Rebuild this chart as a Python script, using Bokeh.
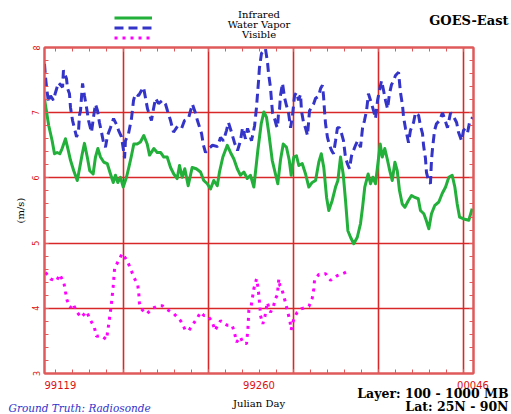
import numpy as np
from bokeh.plotting import figure
from bokeh.layouts import column
from bokeh.models import (LinearAxis, FixedTicker, Grid, Range1d, Legend,
                          LegendItem)
from bokeh.core.properties import value
from bokeh.embed import file_html
from bokeh.resources import INLINE

# ---- data: days since 99119, wind speed error (m/s) ----
ir_day = [0, 2.9, 5.2, 6.8, 8.6, 10.4, 12.0, 14.3, 15.9, 17.7,
          19.9, 22.3, 24.0, 25.7, 27.2, 29.1, 30.8, 33.1, 34.7, 36.3,
          38.1, 40.4, 42.7, 44.9, 46.8, 48.3, 49.9, 51.7, 53.6, 55.8,
          57.4, 59.0, 60.8, 63.1, 65.3, 67.6, 69.9, 71.5, 74.4, 76.7,
          79.0, 81.2, 83.5, 85.8, 88.0, 90.3, 91.9, 93.7, 95.5, 97.8,
          100.5, 103.3, 106.2, 108.4, 110.8, 113.0, 115.2, 117.6, 119.1, 121.4,
          124.4, 126.6, 128.9, 131.2, 133.4, 135.7, 138.0, 140.2, 142.5, 145.2,
          147.5, 149.3, 151.1, 152.7, 155.0, 157.2, 158.8, 160.6, 162.5, 164.7,
          166.6, 167.9, 169.7, 171.5, 173.1, 175.4, 177.7, 179.9, 182.2, 184.5,
          186.7, 188.4, 190.1, 192.0, 193.5, 195.8, 198.1, 199.7, 201.5, 203.3,
          204.9, 206.5, 208.3, 210.5, 212.9, 215.1, 216.5, 218.0, 220.3, 221.9,
          223.5, 225.3, 227.2, 228.5, 229.9, 231.6, 233.3, 235.0, 236.7, 238.5,
          240.1, 241.6, 243.5, 245.3, 247.6, 249.8, 252.1, 254.4, 255.9, 258.2,
          259.8, 261.6, 263.4, 265.7, 268.4, 270.7, 273.0, 275.2, 277.5, 279.3,
          280.9, 282.5, 285.4, 288.8, 291.1]
ir_val = [7.21, 6.80, 6.57, 6.37, 6.39, 6.37, 6.45, 6.60, 6.45, 6.27,
          6.11, 5.96, 6.16, 6.37, 6.53, 6.32, 6.11, 6.06, 6.32, 6.45,
          6.32, 6.24, 6.22, 6.06, 5.93, 6.04, 5.93, 6.01, 5.86, 6.01,
          6.16, 6.32, 6.52, 6.52, 6.55, 6.65, 6.52, 6.35, 6.45, 6.39,
          6.39, 6.32, 6.32, 6.16, 6.06, 5.99, 6.19, 6.01, 6.14, 5.88,
          6.16, 6.14, 6.09, 5.96, 5.91, 5.83, 5.96, 5.88, 6.09, 6.32,
          6.50, 6.39, 6.29, 6.14, 6.04, 6.09, 5.99, 6.04, 5.86, 6.42,
          6.83, 7.01, 6.93, 6.68, 6.27, 6.06, 5.91, 6.27, 6.52, 6.47,
          6.27, 6.04, 6.32, 6.34, 6.19, 6.22, 6.06, 5.86, 5.93, 5.96,
          6.24, 6.37, 6.16, 5.70, 5.50, 5.65, 5.86, 5.96, 6.32, 6.06,
          5.65, 5.19, 5.09, 4.99, 5.09, 5.30, 5.55, 5.86, 6.06, 5.91,
          6.01, 5.91, 6.27, 6.52, 6.32, 6.45, 6.29, 6.11, 5.96, 6.24,
          6.11, 5.81, 5.60, 5.55, 5.65, 5.73, 5.70, 5.68, 5.50, 5.45,
          5.35, 5.22, 5.45, 5.58, 5.63, 5.76, 5.86, 6.01, 6.04, 5.86,
          5.60, 5.40, 5.37, 5.35, 5.53]

wv_day = [0, 0.7, 1.4, 2.7, 4.1, 6.1, 7.5, 9.5, 12.3, 12.9,
          15.0, 15.7, 17.0, 17.7, 19.1, 20.4, 21.8, 23.1, 23.8, 24.5,
          25.9, 27.2, 28.6, 30.0, 32.0, 33.4, 34.7, 36.1, 37.4, 38.8,
          40.2, 41.5, 42.9, 44.9, 47.0, 49.0, 50.4, 52.4, 53.8, 54.5,
          55.1, 57.2, 59.2, 60.6, 61.9, 64.0, 66.0, 67.4, 68.8, 70.1,
          72.8, 74.2, 75.6, 77.6, 80.3, 82.4, 83.7, 85.8, 87.8, 90.5,
          93.3, 95.3, 98.0, 99.4, 100.7, 102.8, 104.1, 106.9, 108.2, 109.6,
          111.6, 114.4, 117.8, 119.8, 121.8, 123.9, 125.2, 127.3, 129.3, 131.4,
          133.4, 134.8, 136.8, 138.2, 140.9, 143.0, 144.3, 145.0, 145.7, 146.3,
          147.7, 149.1, 150.4, 151.8, 152.5, 153.8, 154.5, 155.2, 156.6, 157.9,
          158.6, 159.3, 160.0, 160.6, 162.0, 163.4, 164.7, 166.1, 167.5, 168.8,
          170.2, 171.5, 172.9, 174.3, 174.9, 176.3, 177.7, 179.0, 180.4, 181.7,
          183.1, 184.5, 186.5, 187.9, 189.2, 189.9, 190.6, 191.3, 192.6, 194.0,
          195.4, 196.7, 198.1, 199.4, 200.8, 202.2, 203.5, 204.9, 206.3, 207.6,
          209.0, 210.3, 211.7, 213.1, 215.1, 216.5, 217.8, 219.2, 220.5, 222.6,
          224.0, 225.3, 226.7, 228.0, 229.4, 230.8, 232.1, 233.5, 234.8, 236.2,
          237.6, 238.9, 241.0, 242.3, 243.7, 244.4, 245.7, 247.8, 249.1, 251.2,
          252.5, 254.6, 255.9, 257.3, 258.0, 259.3, 260.0, 261.4, 262.7, 263.4,
          264.1, 265.5, 266.8, 268.9, 270.9, 272.3, 274.3, 276.4, 277.7, 279.1,
          280.5, 281.8, 283.9, 285.2, 286.6, 288.0, 289.3, 291.4]
wv_val = [7.75, 7.54, 7.39, 7.16, 7.26, 7.19, 7.31, 7.46, 7.39, 7.65,
          7.52, 7.37, 7.29, 7.08, 6.88, 6.76, 6.63, 6.70, 6.96, 7.03,
          7.45, 7.26, 7.08, 6.88, 6.70, 6.94, 7.13, 7.03, 6.85, 6.70,
          6.54, 6.47, 6.65, 6.77, 6.91, 6.82, 6.73, 6.63, 6.42, 6.30,
          6.57, 6.68, 6.91, 7.19, 7.29, 7.26, 7.34, 7.39, 7.22, 7.06,
          6.88, 7.06, 7.22, 7.14, 7.19, 7.13, 7.03, 6.88, 6.70, 6.79,
          6.76, 6.88, 6.91, 7.03, 7.13, 6.99, 6.88, 6.68, 6.50, 6.39,
          6.45, 6.50, 6.48, 6.62, 6.57, 6.73, 6.85, 6.70, 6.54, 6.42,
          6.57, 6.77, 6.60, 6.76, 6.57, 6.80, 7.08, 7.29, 7.49, 7.69,
          7.91, 7.95, 7.98, 7.77, 7.60, 7.39, 7.19, 7.00, 6.91, 6.80,
          6.77, 7.00, 7.06, 7.26, 7.45, 7.23, 7.11, 7.00, 6.77, 6.96,
          7.26, 7.31, 7.19, 7.28, 7.03, 6.85, 6.76, 6.65, 7.03, 7.08,
          7.13, 7.22, 7.25, 7.37, 7.42, 7.26, 7.03, 6.83, 6.62, 6.50,
          6.42, 6.37, 6.57, 6.77, 6.77, 6.68, 6.57, 6.31, 6.21, 6.14,
          6.34, 6.42, 6.50, 6.57, 6.47, 6.77, 6.88, 7.03, 7.29, 7.14,
          7.03, 6.91, 7.19, 7.34, 7.49, 7.34, 7.19, 7.06, 7.29, 7.43,
          7.49, 7.57, 7.62, 7.31, 7.11, 6.93, 6.76, 6.54, 6.73, 6.85,
          7.00, 6.96, 6.80, 6.68, 6.50, 6.30, 6.08, 5.96, 5.91, 6.27,
          6.45, 6.73, 6.83, 6.88, 7.00, 6.91, 6.77, 7.00, 6.96, 6.91,
          6.85, 6.70, 6.57, 6.73, 6.76, 6.70, 6.85, 6.93]

vis_day = [0.7, 4.1, 8.2, 10.4, 13.2, 14.3, 15.4, 17.7, 19.5, 21.8,
           25.0, 28.6, 30.9, 34.0, 35.4, 38.6, 42.2, 43.8, 45.4, 46.7,
           47.7, 49.9, 52.9, 56.3, 58.5, 60.8, 63.5, 64.2, 64.6, 66.0,
           68.7, 69.9, 73.3, 77.8, 80.1, 83.5, 88.0, 92.6, 96.0, 98.3,
           100.5, 104.0, 106.2, 108.5, 110.7, 114.1, 116.0, 118.0, 119.8, 124.3,
           127.7, 129.3, 130.7, 133.4, 135.2, 137.5, 138.4, 139.1, 140.7, 142.5,
           144.3, 145.4, 146.6, 147.0, 148.6, 150.0, 151.6, 153.8, 155.7, 157.2,
           158.4, 159.5, 160.2, 161.1, 162.5, 164.0, 165.6, 167.0, 167.9, 169.7,
           172.0, 174.7, 180.0, 182.2, 183.3, 183.8, 186.7, 191.3, 194.7, 199.2,
           203.8, 207.8]
vis_val = [4.55, 4.45, 4.42, 4.52, 4.39, 4.25, 4.12, 4.01, 4.07, 3.95,
           3.86, 3.95, 3.84, 3.70, 3.57, 3.58, 3.52, 3.77, 4.04, 4.32,
           4.61, 4.71, 4.84, 4.73, 4.61, 4.48, 4.35, 4.22, 4.08, 3.99,
           3.92, 3.92, 4.00, 4.04, 4.04, 3.98, 3.92, 3.81, 3.66, 3.66,
           3.74, 3.85, 3.94, 3.89, 3.89, 3.80, 3.66, 3.74, 3.81, 3.74,
           3.74, 3.63, 3.48, 3.56, 3.46, 3.46, 3.67, 3.97, 4.04, 4.30,
           4.45, 4.31, 4.03, 3.89, 3.76, 3.87, 4.09, 3.94, 4.02, 4.15,
           4.20, 4.45, 4.35, 4.32, 4.22, 4.09, 3.94, 3.81, 3.67, 3.84,
           3.94, 3.99, 4.03, 4.15, 4.30, 4.43, 4.52, 4.53, 4.43, 4.50,
           4.54, 4.58]

series_names = ["Infrared", "Water Vapor", "Visible"]
x_labels = ["99119", "99260", "00046"]
y_ticks = [3, 4, 5, 6, 7, 8]
x_major = [53.8, 111.7, 169.5, 227.4, 285.2]

assert len(ir_day) == len(ir_val)
assert len(wv_day) == len(wv_val)
assert len(vis_day) == len(vis_val)

# ---- styles ----
FRAME = "#df5a5a"
GRID = "#d82828"
TXT_RED = "#dd1111"
GREEN = "#22b03a"
BLUE = "#3434c8"
MAGENTA = "#ff00ff"
SERIF = "DejaVu Serif"
SANS = "DejaVu Sans"
W = 511
TOP_H, MAIN_H, BOT_H = 45, 331, 38
STYLES = dict(
    ir=dict(line_color=GREEN, line_width=3, line_join="round"),
    wv=dict(line_color=BLUE, line_width=3, line_dash="9 5"),
    vis=dict(line_color=MAGENTA, line_width=3, line_dash="3 5"),
)


def no_align(fig):
    try:
        fig.frame_align = False
    except Exception:
        pass


# ---------------- main plot ----------------
p = figure(width=W, height=MAIN_H, x_range=Range1d(0, 292), y_range=Range1d(3, 8),
           x_axis_type=None, y_axis_type=None, toolbar_location=None,
           output_backend="svg", min_border_left=44, min_border_right=38,
           min_border_top=2, min_border_bottom=3)
p.outline_line_color = FRAME
p.outline_line_width = 2
p.background_fill_color = "white"
p.border_fill_color = "white"
no_align(p)

x_minor = list(np.round(np.arange(x_major[0] - 57.85, 292, 11.57), 2))
y_minor = list(np.round(np.arange(3, 8.01, 0.2), 2))
xt = FixedTicker(ticks=x_major, minor_ticks=x_minor)
yt = FixedTicker(ticks=y_ticks, minor_ticks=y_minor)


def style_axis(ax, show_labels=False):
    ax.axis_line_color = FRAME
    ax.axis_line_width = 2
    ax.major_tick_in = 4
    ax.major_tick_out = 0
    ax.minor_tick_in = 4
    ax.minor_tick_out = 0
    ax.major_tick_line_color = FRAME
    ax.minor_tick_line_color = FRAME
    if not show_labels:
        ax.major_label_text_color = None
        ax.major_label_standoff = 0


bottom = LinearAxis(ticker=xt)
top = LinearAxis(ticker=xt)
left = LinearAxis(ticker=yt, axis_label="(m/s)")
right = LinearAxis(ticker=yt)
for ax in (bottom, top, right):
    style_axis(ax)
style_axis(left, True)
left.major_label_orientation = "vertical"
left.major_label_text_font_size = "8px"
left.major_label_text_font = SANS
left.major_label_text_color = TXT_RED
left.major_label_standoff = 5
left.axis_label_text_font = SERIF
left.axis_label_text_font_size = "10px"
left.axis_label_text_font_style = "normal"
left.axis_label_text_color = "black"
left.axis_label_standoff = 4
p.add_layout(bottom, "below")
p.add_layout(top, "above")
p.add_layout(left, "left")
p.add_layout(right, "right")

p.add_layout(Grid(dimension=0, ticker=xt, grid_line_color=GRID, grid_line_width=1.6))
p.add_layout(Grid(dimension=1, ticker=yt, grid_line_color=GRID, grid_line_width=1.6))

p.line(ir_day, ir_val, **STYLES["ir"])
p.line(wv_day, wv_val, **STYLES["wv"])
p.line(vis_day, vis_val, **STYLES["vis"])

# ---------------- header strip (legend + titles) ----------------
# ranges in pixels, y pointing down
hd = figure(width=W, height=TOP_H, x_range=Range1d(0, W), y_range=Range1d(TOP_H, 0),
            x_axis_type=None, y_axis_type=None, toolbar_location=None,
            output_backend="svg", min_border=0)
hd.outline_line_color = None
hd.border_fill_color = "white"
no_align(hd)
# legend key renderers: style only, no visible data (NaN)
nan = float("nan")
keys = [hd.line(x=[nan], y=[nan], **STYLES[k]) for k in ("ir", "wv", "vis")]
legend = Legend(items=[LegendItem(label=" ", renderers=[r]) for r in keys],
                location=(114, 4), orientation="vertical", glyph_width=38,
                glyph_height=7, label_height=7, label_width=0, label_standoff=0,
                spacing=3, padding=0, margin=0, border_line_color=None,
                background_fill_alpha=0, label_text_font_size="6px",
                label_text_color=None)
hd.add_layout(legend, "center")
hd.text(x=[258.5] * 3, y=[14, 24, 34], text=series_names,
        text_font=value(SERIF), text_font_size=value("10px"),
        text_align="center", text_baseline="middle", text_color="black")
hd.text(x=[508], y=[20], text=["GOES-East"], text_font=value(SERIF),
        text_font_size=value("13px"), text_font_style="bold",
        text_align="right", text_baseline="middle", text_color="black")

# ---------------- footer strip ----------------
Y0 = TOP_H + MAIN_H
ft = figure(width=W, height=BOT_H, x_range=Range1d(0, W),
            y_range=Range1d(Y0 + BOT_H, Y0), x_axis_type=None, y_axis_type=None,
            toolbar_location=None, output_backend="svg", min_border=0)
ft.outline_line_color = None
ft.border_fill_color = "white"
no_align(ft)
ft.text(x=[44], y=[384], text=[x_labels[0]], text_font=value(SANS),
        text_font_size=value("10px"), text_align="left", text_baseline="middle",
        text_color=TXT_RED)
ft.text(x=[258.5, 472.5], y=[384, 384], text=x_labels[1:], text_font=value(SANS),
        text_font_size=value("10px"), text_align="center", text_baseline="middle",
        text_color=TXT_RED)
ft.text(x=[258.5], y=[403], text=["Julian Day"], text_font=value(SERIF),
        text_font_size=value("10px"), text_align="center", text_baseline="middle",
        text_color="black")
ft.text(x=[508, 508], y=[393, 406], text=["Layer: 100 - 1000 MB", "Lat: 25N - 90N"],
        text_font=value(SERIF), text_font_size=value("12.5px"),
        text_font_style="bold", text_align="right", text_baseline="middle",
        text_color="black")
ft.text(x=[8], y=[407], text=["Ground Truth: Radiosonde"], text_font=value(SERIF),
        text_font_size=value("10.5px"), text_font_style="italic",
        text_align="left", text_baseline="middle", text_color="#3333cc")

layout = column(hd, p, ft, spacing=0)
open("out.html", "w").write(file_html(layout, INLINE))
